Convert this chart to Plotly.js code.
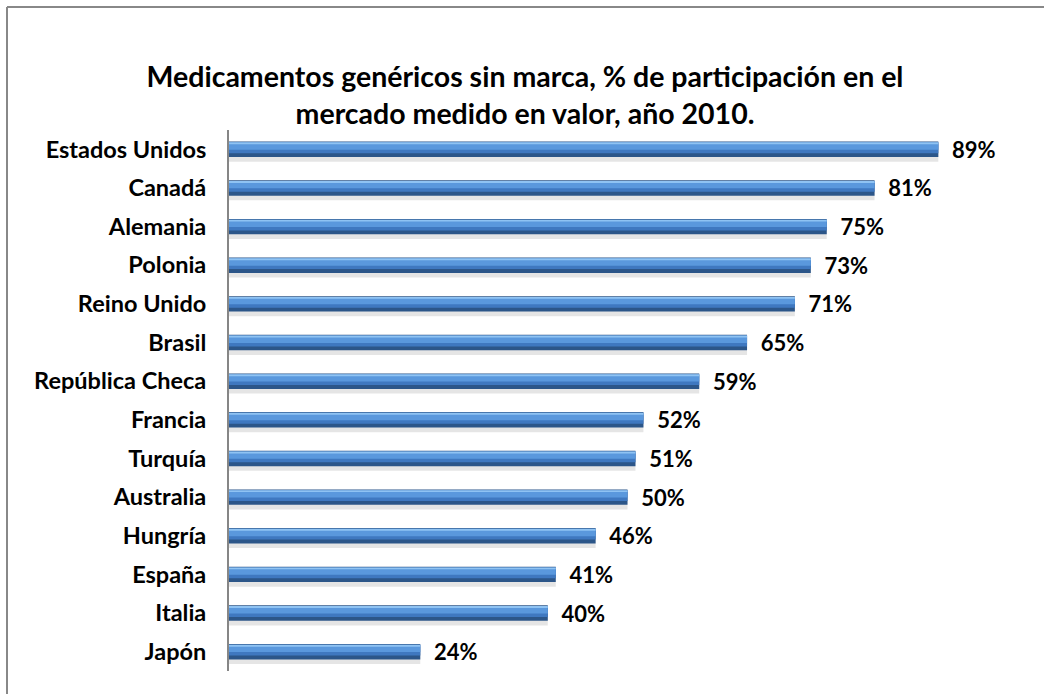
<!DOCTYPE html>
<html>
<head>
<meta charset="utf-8">
<script src="https://cdn.plot.ly/plotly-3.0.1.min.js"></script>
<style>
html,body{margin:0;padding:0;background:#fff;}
#chart{width:1044px;height:694px;}
</style>
</head>
<body>
<div id="chart"></div>
<script>
const countries = ["Estados Unidos","Canadá","Alemania","Polonia","Reino Unido","Brasil","República Checa","Francia","Turquía","Australia","Hungría","España","Italia","Japón"];
const shares = [89,81,75,73,71,65,59,52,51,50,46,41,40,24];
const shareLabels = shares.map(v => "\u00a0\u00a0" + v + "%");

const FONT = "Lato, 'Open Sans', sans-serif";

function barLayer(color, offset, width, extra) {
  return Object.assign({
    type: "bar", orientation: "h",
    x: shares, y: countries,
    offset: offset, width: width,
    marker: {color: color, line: {width: 0}},
    hoverinfo: "skip", showlegend: false
  }, extra || {});
}

const traces = [
  barLayer("rgba(0,0,0,0.10)", -0.12, 0.44),
  barLayer("#2c5689", -0.20, 0.40, {
    text: shareLabels, textposition: "outside", cliponaxis: false,
    constraintext: "none",
    textfont: {family: FONT, size: 22, color: "#000", weight: "bold"}
  }),
  barLayer("#3f78c0", -0.18, 0.28),
  barLayer("#5a98dd", -0.16, 0.17),
  barLayer("#8fc3f3", -0.18, 0.05)
];

const layout = {
  width: 1044, height: 694,
  paper_bgcolor: "#fff", plot_bgcolor: "#fff",
  margin: {l: 229, r: 18, t: 130, b: 23},
  barmode: "overlay",
  title: {
    text: "Medicamentos genéricos sin marca, % de participación en el<br>mercado medido en valor, año 2010.",
    font: {family: FONT, size: 28.5, color: "#000", weight: "bold"},
    x: 525/1044, xanchor: "center", xref: "container",
    y: 1 - 87/694, yanchor: "middle", yref: "container"
  },
  xaxis: {range: [0, 100], visible: false, fixedrange: true},
  yaxis: {
    type: "category", autorange: "reversed",
    showline: true, linecolor: "#868686", linewidth: 2,
    showgrid: false, zeroline: false, ticks: "",
    ticklabelstandoff: 16,
    tickfont: {family: FONT, size: 23.5, color: "#000", weight: "bold"},
    fixedrange: true
  },
  shapes: [
    {type: "line", xref: "paper", yref: "paper", x0: -222/797, x1: 1.1, y0: (694-23-7)/541, y1: (694-23-7)/541, line: {color: "#888", width: 2}},
    {type: "line", xref: "paper", yref: "paper", x0: -222/797, x1: -222/797, y0: -0.1, y1: (694-23-7)/541, line: {color: "#888", width: 2}}
  ]
};

Plotly.newPlot("chart", traces, layout, {displayModeBar: false, staticPlot: true});
</script>
</body>
</html>
